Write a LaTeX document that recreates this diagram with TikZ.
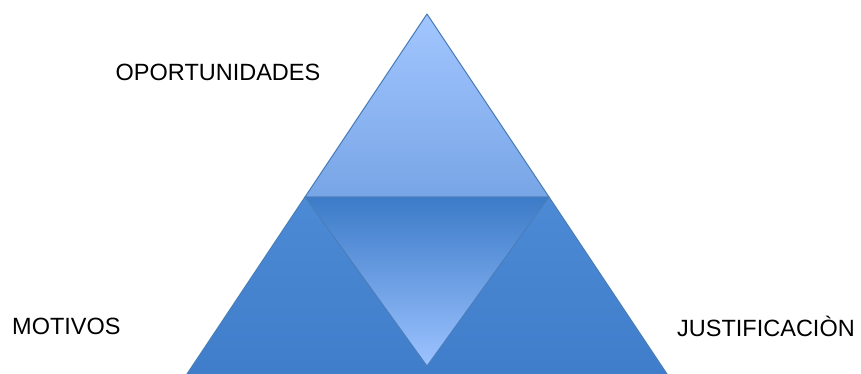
\documentclass[tikz,border=0pt]{standalone}
\usepackage{fontspec}
\setmainfont{Liberation Sans}
\usepackage{tikz}
\usetikzlibrary{calc}
\definecolor{edgeblue}{HTML}{4A7EBB}
\definecolor{toplight}{HTML}{A2C6FF}
\definecolor{topdark}{HTML}{78A5E6}
\definecolor{sidetop}{HTML}{4D8AD5}
\definecolor{sidebot}{HTML}{3F7DCA}
\definecolor{midtop}{HTML}{3C7BC8}
\definecolor{midbot}{HTML}{9DC3FF}
\tikzset{
  part/.style    = {draw=edgeblue,line width=1pt,line join=round},
  toppart/.style = {part,top color=toplight,bottom color=topdark},
  sidepart/.style= {part,top color=sidetop,bottom color=sidebot},
  midpart/.style = {part,top color=midtop,bottom color=midbot},
  lbl/.style     = {font=\fontsize{23.5}{27}\selectfont,inner sep=0pt,text=black},
}

\begin{document}
\begin{tikzpicture}[x=1pt,y=-1pt]
  \useasboundingbox (0,0) rectangle (861,373);
  \clip (0,0) rectangle (861,373);
  % corners of the pyramid
  \coordinate (apex) at (427,14);
  \coordinate (bl)   at (183,380);
  \coordinate (br)   at (671,380);
  \coordinate (ml)   at (305,197);
  \coordinate (mr)   at (549,197);
  \coordinate (tip)  at (427,366);

  % lower band, top part, inverted middle
  \draw[sidepart] (ml) -- (bl) -- (br) -- (mr) -- cycle;
  \draw[toppart]  (apex) -- (ml) -- (mr) -- cycle;
  \draw[midpart]  (ml) -- (mr) -- (tip) -- cycle;

  % labels
  \node[lbl] (oport) at (218,72)  {OPORTUNIDADES};
  \node[lbl,anchor=west] (motiv) at (12,326)  {MOTIVOS};
  \node[lbl,anchor=west] (justi) at (677,326) {JUSTIFICACIÒN};
\end{tikzpicture}
\end{document}
